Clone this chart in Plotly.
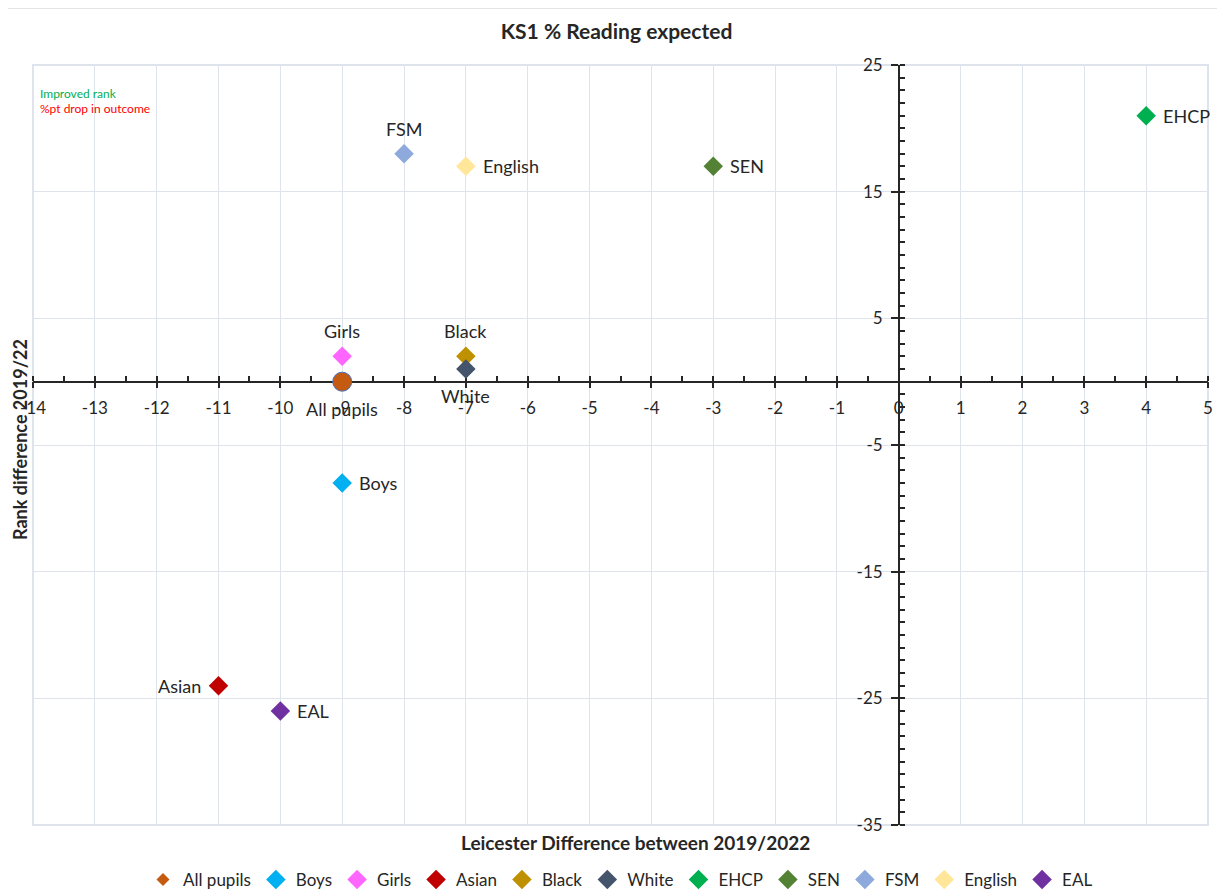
import plotly.graph_objects as go

# ---- data ----
names = ["All pupils", "Boys", "Girls", "Asian", "Black", "White",
         "EHCP", "SEN", "FSM", "English", "EAL"]
x_diff = [-9, -9, -9, -11, -7, -7, 4, -3, -8, -7, -10]
rank_diff = [0, -8, 2, -24, 2, 1, 21, 17, 18, 17, -26]

x_ticks = list(range(-14, 6))
y_ticks = [25, 15, 5, -5, -15, -25, -35]

# ---- styles ----
colors = ["#C55A11", "#00B0F0", "#FF66FF", "#C00000", "#BF9000", "#44546A",
          "#00B050", "#548235", "#8EA9DB", "#FFE699", "#7030A0"]
label_side = ["below", "right", "above", "left", "above", "below",
              "right", "right", "above", "right", "right"]

FONT = "Lato, 'Open Sans', sans-serif"
TXT = "#262626"

fig = go.Figure()
for i, n in enumerate(names):
    is_all = (n == "All pupils")
    fig.add_trace(go.Scatter(
        x=[x_diff[i]], y=[rank_diff[i]], mode="markers", name=n,
        marker=dict(symbol="circle" if is_all else "diamond",
                    size=19 if is_all else 15, color=colors[i],
                    line=dict(color="#4472C4", width=1) if is_all else dict(width=0)),
        showlegend=not is_all, cliponaxis=False,
    ))
    if is_all:
        fig.add_trace(go.Scatter(
            x=[None], y=[None], mode="markers", name=n,
            marker=dict(symbol="diamond", size=10, color=colors[i]),
            showlegend=True))

label_annotations = []
for i, n in enumerate(names):
    side = label_side[i]
    a = dict(x=x_diff[i], y=rank_diff[i], xref="x", yref="y", text=n,
             showarrow=False, font=dict(size=18, color=TXT, family=FONT))
    if side == "above":
        a.update(xanchor="center", yanchor="middle", yshift=25)
    elif side == "below":
        a.update(xanchor="center", yanchor="middle", yshift=-27)
    elif side == "right":
        a.update(xanchor="left", yanchor="middle", xshift=15)
    else:
        a.update(xanchor="right", yanchor="middle", xshift=-16)
    label_annotations.append(a)

fig.update_layout(
    width=1217, height=904,
    margin=dict(l=25, r=17, t=57, b=87),
    paper_bgcolor="white", plot_bgcolor="white",
    font=dict(family=FONT, size=16, color=TXT),
    title=dict(text="<b>KS1 % Reading expected</b>", x=0.5, xanchor="center",
               y=1 - 24 / 904, yanchor="middle",
               font=dict(size=21, color=TXT, family=FONT)),
    legend=dict(orientation="h", x=0.5, xanchor="center", y=-55 / 760,
                yanchor="middle", font=dict(size=17), itemsizing="trace",
                traceorder="normal", itemwidth=30),
    xaxis=dict(range=[-14, 5], tickvals=x_ticks, ticktext=[str(v) for v in x_ticks],
               anchor="free", position=35 / 60, showline=True,
               linecolor=TXT, linewidth=1.5, ticks="outside", ticklen=6,
               tickwidth=1.5, tickcolor=TXT, showgrid=True,
               gridcolor="#DFE3EB", gridwidth=1, zeroline=False,
               ticklabelstandoff=5, layer="below traces",
               tickfont=dict(size=17, color=TXT),
               minor=dict(dtick=0.5, tick0=0, ticks="inside", ticklen=5,
                          tickcolor=TXT, showgrid=False)),
    yaxis=dict(range=[-35, 25], tickvals=y_ticks, ticktext=[str(v) for v in y_ticks],
               anchor="free", position=14 / 19, showline=True,
               linecolor=TXT, linewidth=1.5, ticks="outside", ticklen=7,
               tickwidth=1.5, tickcolor=TXT, showgrid=True,
               gridcolor="#DFE3EB", gridwidth=1, zeroline=False,
               ticklabelstandoff=5, layer="below traces",
               tickfont=dict(size=17, color=TXT),
               minor=dict(dtick=1, tick0=0, ticks="inside", ticklen=5,
                          tickcolor=TXT, showgrid=False)),
    shapes=[
        dict(type="rect", xref="paper", yref="paper", x0=0, x1=1, y0=0, y1=1,
             line=dict(color="#DFE3EB", width=2), layer="below"),
        dict(type="line", xref="paper", yref="paper", x0=-0.05, x1=1.05,
             y0=(825 - 8) / 760, y1=(825 - 8) / 760,
             line=dict(color="#DDDDDD", width=1.5)),
    ],
    annotations=label_annotations + [
        dict(text="<b>Leicester Difference between 2019/2022</b>", xref="paper",
             yref="paper", x=(635 - 33) / 1175, y=(825 - 842) / 760,
             showarrow=False, xanchor="center", yanchor="middle",
             font=dict(size=19, color=TXT)),
        dict(text="<b>Rank difference 2019/22</b>", xref="paper", yref="paper",
             x=(20 - 33) / 1175, y=(825 - 440) / 760, textangle=-90,
             showarrow=False, xanchor="center", yanchor="middle",
             font=dict(size=18, color=TXT)),
        dict(text="Improved rank", xref="paper", yref="paper",
             x=(38 - 33) / 1175, y=(825 - 93) / 760, showarrow=False,
             xanchor="left", yanchor="middle",
             font=dict(size=12, color="#00B050")),
        dict(text="%pt drop in outcome", xref="paper", yref="paper",
             x=(38 - 33) / 1175, y=(825 - 109) / 760, showarrow=False,
             xanchor="left", yanchor="middle",
             font=dict(size=12, color="#FF0000")),
    ],
)

fig.write_html("out.html")
